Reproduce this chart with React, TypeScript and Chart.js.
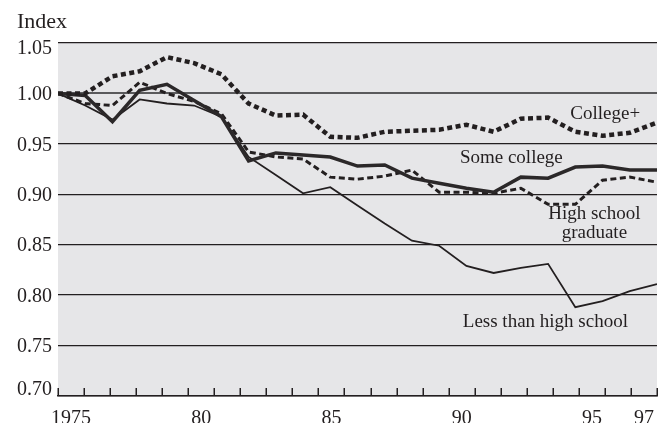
import React, { useEffect, useRef } from 'react';
import { Chart, registerables } from 'chart.js';

Chart.register(...registerables);

// ---- data ----
const years = [1975, 1976, 1977, 1978, 1979, 1980, 1981, 1982, 1983, 1984, 1985, 1986, 1987, 1988, 1989, 1990, 1991, 1992, 1993, 1994, 1995, 1996, 1997];
const collegePlus = [1.000, 1.000, 1.017, 1.022, 1.036, 1.030, 1.019, 0.990, 0.978, 0.979, 0.957, 0.956, 0.962, 0.963, 0.964, 0.969, 0.962, 0.975, 0.976, 0.962, 0.958, 0.961, 0.971];
const someCollege = [1.000, 0.998, 0.972, 1.003, 1.009, 0.993, 0.977, 0.933, 0.941, 0.939, 0.937, 0.928, 0.929, 0.916, 0.911, 0.906, 0.902, 0.917, 0.916, 0.927, 0.928, 0.924, 0.924];
const hsGraduate = [1.000, 0.990, 0.988, 1.011, 1.000, 0.992, 0.980, 0.942, 0.937, 0.935, 0.917, 0.915, 0.918, 0.924, 0.902, 0.902, 0.901, 0.906, 0.890, 0.890, 0.914, 0.917, 0.912];
const lessThanHS = [1.000, 0.988, 0.974, 0.994, 0.990, 0.988, 0.977, 0.937, 0.919, 0.901, 0.907, 0.889, 0.871, 0.854, 0.849, 0.829, 0.822, 0.827, 0.831, 0.788, 0.794, 0.804, 0.811];

const yTicks = [0.70, 0.75, 0.80, 0.85, 0.90, 0.95, 1.00, 1.05];
const xTickYears = [1975, 1980, 1985, 1990, 1995, 1997];
const xTickText = ['1975', '80', '85', '90', '95', '97'];
const yTitle = 'Index';

const seriesLabelLines = [['College+'], ['Some college'], ['High school', 'graduate'], ['Less than high school']];
const seriesLabelYears = [1995.1, 1991.65, 1994.7, 1992.9];
const seriesLabelValues = [0.9795, 0.936, 0.871, 0.773];

const FONT = '"Liberation Serif", "Times New Roman", serif';
const INK = '#231f20';

const decor = {
  id: 'decor',
  beforeDraw(chart: any) {
    const { ctx, chartArea: a } = chart;
    ctx.save();
    ctx.fillStyle = '#e6e6e8';
    ctx.fillRect(a.left, a.top, a.right - a.left, a.bottom - a.top);
    ctx.restore();
  },
  afterDraw(chart: any) {
    const ctx = chart.ctx;
    const xs = chart.scales.x;
    const xd = chart.scales.xd;
    const ys = chart.scales.y;
    const { top, bottom } = chart.chartArea;
    ctx.save();
    // inward tick marks at year boundaries
    ctx.strokeStyle = INK;
    ctx.lineWidth = 1.5;
    for (let i = 0; i <= years.length; i++) {
      const px = Math.round(xs.getPixelForValue(i - 0.5)) + 0.25;
      ctx.beginPath();
      ctx.moveTo(px, bottom);
      ctx.lineTo(px, bottom - 8);
      ctx.stroke();
    }
    // y tick labels
    ctx.fillStyle = INK;
    ctx.font = `20px ${FONT}`;
    ctx.textAlign = 'right';
    ctx.textBaseline = 'middle';
    yTicks.forEach((v) => {
      let py = ys.getPixelForValue(v) + 1.5;
      py = Math.min(Math.max(py, top + 6), bottom - 6);
      ctx.fillText(v.toFixed(2), ys.right - 6, py);
    });
    // axis title
    ctx.font = `22px ${FONT}`;
    ctx.textAlign = 'left';
    ctx.textBaseline = 'alphabetic';
    ctx.fillText(yTitle, 17, 28);
    // series labels
    ctx.font = `19px ${FONT}`;
    ctx.textAlign = 'center';
    ctx.textBaseline = 'middle';
    seriesLabelLines.forEach((lines, k) => {
      const cx = xd.getPixelForValue(seriesLabelYears[k]);
      const cy = ys.getPixelForValue(seriesLabelValues[k]);
      lines.forEach((t, j) => {
        ctx.fillText(t, cx, cy + (j - (lines.length - 1) / 2) * 19);
      });
    });
    ctx.restore();
  },
};

function pts(vals: number[]) {
  return vals.map((v, i) => ({ x: years[i], y: v }));
}

export default function App() {
  const ref = useRef<HTMLCanvasElement | null>(null);
  useEffect(() => {
    if (!ref.current) return;
    const chart = new Chart(ref.current, {
      type: 'line',
      data: {
        labels: years.map(String),
        datasets: [
          {
            label: 'College+',
            data: pts(collegePlus),
            xAxisID: 'xd',
            borderColor: INK,
            borderWidth: 4.5,
            borderDash: [5, 3.5],
            borderCapStyle: 'butt',
            pointRadius: 0,
            tension: 0,
            fill: false,
          },
          {
            label: 'Some college',
            data: pts(someCollege),
            xAxisID: 'xd',
            borderColor: '#2b2829',
            borderWidth: 3.5,
            pointRadius: 0,
            tension: 0,
            fill: false,
          },
          {
            label: 'High school graduate',
            data: pts(hsGraduate),
            xAxisID: 'xd',
            borderColor: INK,
            borderWidth: 3,
            borderDash: [6, 3.5],
            borderCapStyle: 'butt',
            pointRadius: 0,
            tension: 0,
            fill: false,
          },
          {
            label: 'Less than high school',
            data: pts(lessThanHS),
            xAxisID: 'xd',
            borderColor: INK,
            borderWidth: 1.8,
            pointRadius: 0,
            tension: 0,
            fill: false,
          },
        ],
      },
      options: {
        responsive: true,
        maintainAspectRatio: false,
        animation: false,
        layout: { padding: { top: 43, right: 8, left: 0, bottom: 0 } },
        plugins: { legend: { display: false }, tooltip: { enabled: false }, title: { display: false } },
        scales: {
          x: {
            type: 'category',
            offset: true,
            grid: { display: false, offset: true },
            border: { display: true, color: INK, width: 1.5 },
            ticks: {
              autoSkip: false,
              maxRotation: 0,
              color: INK,
              padding: 3,
              font: { family: FONT, size: 20 },
              callback: (_v: any, idx: number) => {
                const k = xTickYears.indexOf(years[idx]);
                return k >= 0 ? xTickText[k] : '';
              },
            },
            afterFit: (s: any) => { s.height = 27; },
          },
          xd: {
            type: 'linear',
            display: false,
            min: years[0],
            max: years[years.length - 1],
          },
          y: {
            type: 'linear',
            min: 0.7,
            max: 1.05,
            ticks: { display: false, stepSize: 0.05 },
            border: { display: false },
            grid: {
              drawTicks: false,
              color: (c: any) => (Math.abs(c.tick.value - 1) < 1e-6 ? '#5a5a5c' : INK),
              lineWidth: (c: any) => (Math.abs(c.tick.value - 1) < 1e-6 ? 2 : 1.3),
            },
            afterFit: (s: any) => { s.width = 58; },
          },
        },
      },
      plugins: [decor],
    });
    return () => chart.destroy();
  }, []);
  return (
    <div style={{ position: 'absolute', left: 0, top: 0, width: 665, height: 423, background: '#fff' }}>
      <canvas ref={ref} />
    </div>
  );
}
